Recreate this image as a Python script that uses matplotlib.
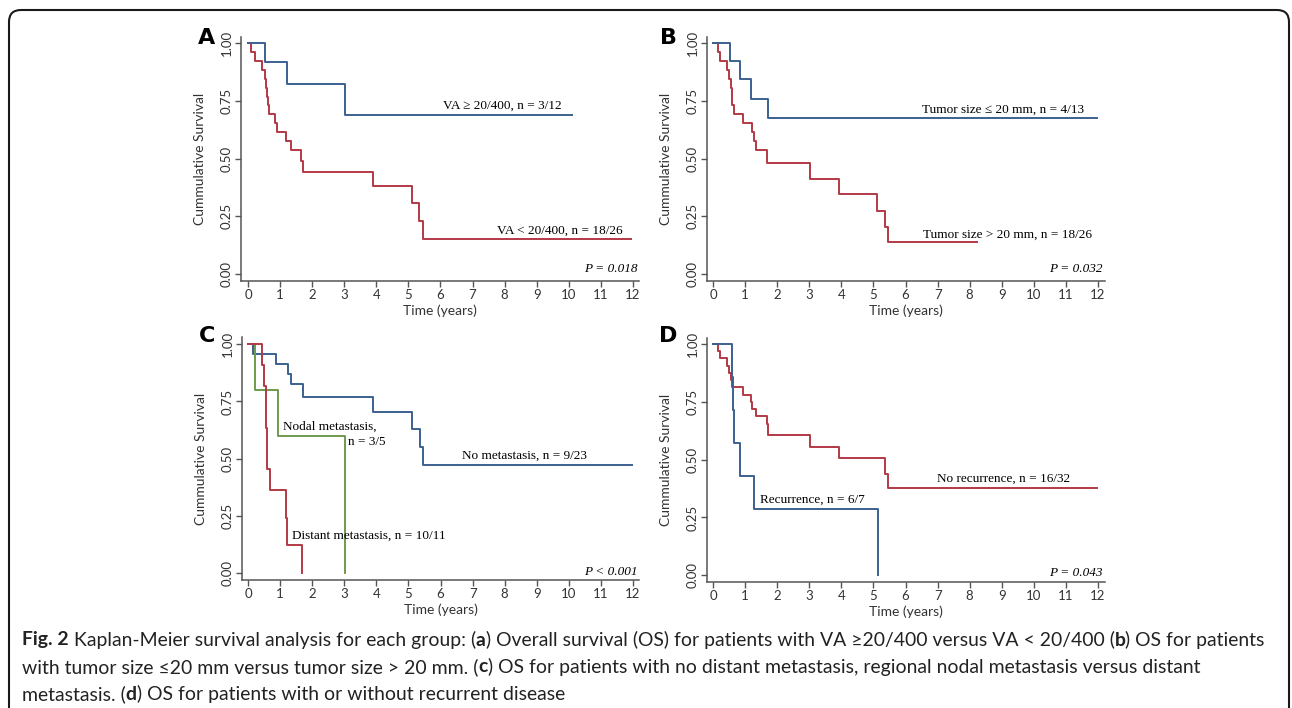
import matplotlib
matplotlib.use("Agg")
import matplotlib.pyplot as plt
from matplotlib.patches import FancyBboxPatch

# ---------------- data ----------------
# Panel A: visual acuity
a_blue_t = [0, 0.52, 1.22, 3.01, 10.10]
a_blue_s = [1.0, 0.917, 0.825, 0.688, 0.688]
a_red_t = [0, 0.10, 0.21, 0.42, 0.54, 0.57, 0.59, 0.61, 0.64, 0.84, 0.91, 1.17,
           1.33, 1.66, 1.71, 3.90, 5.11, 5.34, 5.45, 11.95]
a_red_s = [1.0, 0.962, 0.923, 0.885, 0.846, 0.808, 0.769, 0.731, 0.692, 0.654,
           0.615, 0.577, 0.538, 0.490, 0.444, 0.383, 0.307, 0.230, 0.153, 0.153]

# Panel B: tumour size
b_blue_t = [0, 0.54, 0.85, 1.18, 1.72, 11.97]
b_blue_s = [1.0, 0.923, 0.846, 0.760, 0.676, 0.676]
b_red_t = [0, 0.15, 0.22, 0.44, 0.50, 0.55, 0.58, 0.60, 0.65, 0.94, 1.21, 1.26,
           1.33, 1.67, 3.02, 3.92, 5.12, 5.37, 5.45, 8.22]
b_red_s = [1.0, 0.962, 0.923, 0.885, 0.846, 0.808, 0.769, 0.731, 0.692, 0.654,
           0.615, 0.577, 0.538, 0.481, 0.413, 0.346, 0.275, 0.206, 0.137, 0.137]

# Panel C: metastasis
c_blue_t = [0, 0.14, 0.86, 1.26, 1.35, 1.72, 3.90, 5.12, 5.36, 5.46, 11.97]
c_blue_s = [1.0, 0.956, 0.913, 0.870, 0.826, 0.770, 0.705, 0.630, 0.550, 0.472, 0.472]
c_green_t = [0, 0.23, 0.94, 3.02]
c_green_s = [1.0, 0.80, 0.60, 0.0]
c_red_t = [0, 0.42, 0.50, 0.55, 0.56, 0.58, 0.60, 0.67, 1.19, 1.22, 1.68]
c_red_s = [1.0, 0.909, 0.818, 0.727, 0.636, 0.545, 0.455, 0.364, 0.242, 0.121, 0.0]

# Panel D: recurrence
d_blue_t = [0, 0.58, 0.61, 0.66, 0.85, 1.27, 5.13]
d_blue_s = [1.0, 0.857, 0.714, 0.571, 0.429, 0.286, 0.0]
d_red_t = [0, 0.15, 0.22, 0.44, 0.50, 0.55, 0.60, 0.94, 1.18, 1.22, 1.33, 1.67,
           1.71, 3.02, 3.92, 5.37, 5.45, 11.97]
d_red_s = [1.0, 0.969, 0.938, 0.906, 0.875, 0.844, 0.812, 0.781, 0.750, 0.719,
           0.688, 0.656, 0.605, 0.555, 0.505, 0.440, 0.378, 0.378]

x_ticks = list(range(0, 13))
y_ticks = [0.00, 0.25, 0.50, 0.75, 1.00]
y_tick_labels = ["0.00", "0.25", "0.50", "0.75", "1.00"]

panel_letters = ["A", "B", "C", "D"]
p_values = ["P = 0.018", "P = 0.032", "P < 0.001", "P = 0.043"]
x_label = "Time (years)"
y_label = "Cummulative Survival"

caption_lines = [
    [("Fig. 2", True), (" Kaplan-Meier survival analysis for each group: (", False), ("a", True),
     (") Overall survival (OS) for patients with VA \u226520/400 versus VA < 20/400 (", False),
     ("b", True), (") OS for patients", False)],
    [("with tumor size \u226420 mm versus tumor size > 20 mm. (", False), ("c", True),
     (") OS for patients with no distant metastasis, regional nodal metastasis versus distant", False)],
    [("metastasis. (", False), ("d", True), (") OS for patients with or without recurrent disease", False)],
]

# ---------------- style ----------------
BLUE = "#3c6190"
RED = "#b23a45"
GREEN = "#6f9a4c"
SPINE = "#555555"
TICKFONT = ["Lato", "DejaVu Sans"]
SERIF = ["Liberation Serif", "DejaVu Serif"]
CAPFONT = ["Lato", "DejaVu Sans"]

W, H = 1292, 708
fig = plt.figure(figsize=(W / 100, H / 100), dpi=100)
fig.patch.set_facecolor("white")


def px_axes(left, right, top, bottom):
    return fig.add_axes([left / W, 1 - bottom / H, (right - left) / W, (bottom - top) / H])


axA = px_axes(241, 639, 37, 281)
axB = px_axes(707, 1105, 37, 281)
axC = px_axes(242, 639, 337, 580)
axD = px_axes(707, 1105, 338, 582)

limits = {
    axA: ((-0.22, 12.19), (-0.030, 1.027)),
    axB: ((-0.19, 12.22), (-0.030, 1.027)),
    axC: ((-0.19, 12.19), (-0.031, 1.032)),
    axD: ((-0.19, 12.22), (-0.029, 1.026)),
}

for ax in (axA, axB, axC, axD):
    (x0, x1), (y0, y1) = limits[ax]
    ax.set_xlim(x0, x1)
    ax.set_ylim(y0, y1)
    for s in ("top", "right"):
        ax.spines[s].set_visible(False)
    for s in ("left", "bottom"):
        ax.spines[s].set_color(SPINE)
        ax.spines[s].set_linewidth(1.1)
    ax.set_xticks(x_ticks)
    ax.set_xticklabels([str(v) for v in x_ticks], family=TICKFONT, fontsize=9.5, color="#333333")
    ax.set_yticks(y_ticks)
    ax.set_yticklabels(y_tick_labels, family=TICKFONT, fontsize=9.5, color="#333333",
                       rotation=90, va="center")
    ax.tick_params(axis="both", direction="out", length=4, width=1.0, color=SPINE, pad=2)
    ax.set_xlabel(x_label, family=TICKFONT, fontsize=10, color="#333333")
    ax.set_ylabel(y_label, family=TICKFONT, fontsize=10, color="#333333")
    ax.xaxis.set_label_coords(0.5, -0.095)
    ax.yaxis.set_label_coords(-0.087, 0.5)
    ax.patch.set_alpha(0)

LW = 1.4
# A
axA.step(a_red_t, a_red_s, where="post", color=RED, lw=LW)
axA.step(a_blue_t, a_blue_s, where="post", color=BLUE, lw=LW)
axA.text(9.77, 0.728, "VA \u2265 20/400, n = 3/12", ha="right", va="center", family=SERIF, fontsize=9.5)
axA.text(11.69, 0.188, "VA < 20/400, n = 18/26", ha="right", va="center", family=SERIF, fontsize=9.5)
# B
axB.step(b_red_t, b_red_s, where="post", color=RED, lw=LW)
axB.step(b_blue_t, b_blue_s, where="post", color=BLUE, lw=LW)
axB.text(11.58, 0.714, "Tumor size \u2264 20 mm, n = 4/13", ha="right", va="center", family=SERIF, fontsize=9.5)
axB.text(11.81, 0.172, "Tumor size > 20 mm, n = 18/26", ha="right", va="center", family=SERIF, fontsize=9.5)
# C
axC.step(c_blue_t, c_blue_s, where="post", color=BLUE, lw=LW)
axC.step(c_green_t, c_green_s, where="post", color=GREEN, lw=LW)
axC.step(c_red_t, c_red_s, where="post", color=RED, lw=LW)
axC.text(1.10, 0.639, "Nodal metastasis,", ha="left", va="center", family=SERIF, fontsize=9.5)
axC.text(3.12, 0.572, "n = 3/5", ha="left", va="center", family=SERIF, fontsize=9.5)
axC.text(6.67, 0.512, "No metastasis, n = 9/23", ha="left", va="center", family=SERIF, fontsize=9.5)
axC.text(1.38, 0.163, "Distant metastasis, n = 10/11", ha="left", va="center", family=SERIF, fontsize=9.5)
# D
axD.step(d_red_t, d_red_s, where="post", color=RED, lw=LW)
axD.step(d_blue_t, d_blue_s, where="post", color=BLUE, lw=LW)
axD.text(6.97, 0.416, "No recurrence, n = 16/32", ha="left", va="center", family=SERIF, fontsize=9.5)
axD.text(1.45, 0.325, "Recurrence, n = 6/7", ha="left", va="center", family=SERIF, fontsize=9.5)

p_pos = {axA: 0.020, axB: 0.020, axC: 0.005, axD: 0.012}
for ax, p in zip((axA, axB, axC, axD), p_values):
    ax.text(12.15, p_pos[ax], p, ha="right", va="center", family=SERIF, fontsize=9.5, style="italic")

# panel letters
for letter, (x, y) in zip(panel_letters, [(207, 38), (668, 38), (207, 336), (668, 336)]):
    fig.text(x / W, 1 - y / H, letter, ha="center", va="center", fontsize=16, fontweight="bold",
             family=["DejaVu Sans"])

# border
border = FancyBboxPatch((9, -30), 1280, H - 10 + 30,
                        boxstyle="round,pad=0,rounding_size=12",
                        transform=None, fill=False, edgecolor="#1a1a1a", linewidth=1.5)
fig.add_artist(border)

# caption: size chosen so that the first line spans the same width as in the reference
renderer = fig.canvas.get_renderer()
BASE = 12.5
TARGET_W = 1265 - 22


def line_width(line, size):
    w = 0
    for txt, bold in line:
        t = fig.text(0, 0, txt, fontsize=size, fontweight="bold" if bold else "normal", family=CAPFONT)
        w += t.get_window_extent(renderer).width
        t.remove()
    return w


cap_size = BASE * TARGET_W / line_width(caption_lines[0], BASE)

for line, ypx in zip(caption_lines, [640, 667, 694]):
    x = 22 / W
    for txt, bold in line:
        t = fig.text(x, 1 - ypx / H, txt, ha="left", va="center", fontsize=cap_size,
                     fontweight="bold" if bold else "normal", family=CAPFONT, color="#222222")
        bb = t.get_window_extent(renderer)
        x += bb.width / W

fig.savefig("out.png", dpi=100)
